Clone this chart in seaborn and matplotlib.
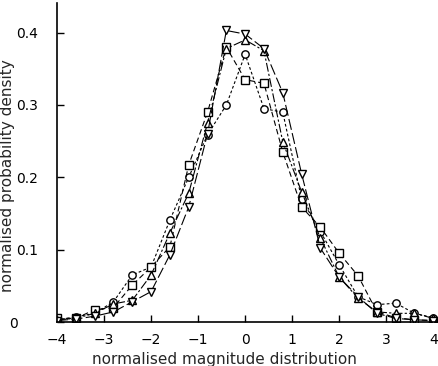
import numpy as np
import pandas as pd
import matplotlib
matplotlib.use("Agg")
import matplotlib.pyplot as plt
import matplotlib.transforms as mtransforms
import seaborn as sns

# bin centres of the normalised magnitude histogram
x_bins = [-4.0, -3.6, -3.2, -2.8, -2.4, -2.0, -1.6, -1.2, -0.8, -0.4, 0.0,
          0.4, 0.8, 1.2, 1.6, 2.0, 2.4, 2.8, 3.2, 3.6, 4.0]

# probability density of each data set
circle_y = [0.003, 0.007, 0.012, 0.028, 0.065, 0.076, 0.141, 0.200, 0.259, 0.300, 0.370,
            0.295, 0.290, 0.170, 0.125, 0.079, 0.035, 0.024, 0.026, 0.012, 0.006]
square_y = [0.005, 0.005, 0.017, 0.020, 0.051, 0.076, 0.104, 0.217, 0.290, 0.380, 0.335,
            0.330, 0.235, 0.159, 0.131, 0.095, 0.064, 0.014, 0.006, 0.003, 0.002]
tri_up_y = [0.003, 0.005, 0.012, 0.025, 0.030, 0.065, 0.123, 0.178, 0.275, 0.378, 0.390,
            0.375, 0.249, 0.180, 0.116, 0.062, 0.033, 0.014, 0.012, 0.012, 0.005]
tri_dn_y = [0.002, 0.004, 0.008, 0.014, 0.028, 0.042, 0.093, 0.159, 0.260, 0.403, 0.398,
            0.378, 0.317, 0.205, 0.102, 0.062, 0.035, 0.012, 0.005, 0.003, 0.002]

x_ticks = [-4, -3, -2, -1, 0, 1, 2, 3, 4]
x_tick_labels = ["\u22124", "\u22123", "\u22122", "\u22121", "0", "1", "2", "3", "4"]
y_ticks = [0, 0.1, 0.2, 0.3, 0.4]
y_tick_labels = ["0", "0.1", "0.2", "0.3", "0.4"]

series = {
    "circle": circle_y,
    "square": square_y,
    "tri_up": tri_up_y,
    "tri_dn": tri_dn_y,
}
df = pd.concat(
    [pd.DataFrame({"x": x_bins, "y": v, "set": k}) for k, v in series.items()],
    ignore_index=True,
)

sns.set_style("ticks")
plt.rcParams["font.family"] = ["DejaVu Sans"]

fig = plt.figure(figsize=(4.39, 3.66), dpi=100)
ax = fig.add_axes([57 / 439, 44 / 366, 381 / 439, 319 / 366])

styles = {
    "circle": dict(marker="o", dashes=(2.5, 2.0)),
    "square": dict(marker="s", dashes=(5, 3)),
    "tri_up": dict(marker="^", dashes=(8, 2, 2, 2)),
    "tri_dn": dict(marker="v", dashes=(10, 3)),
}

for name, st in styles.items():
    sub = df[df["set"] == name]
    sns.lineplot(
        data=sub, x="x", y="y", ax=ax, color="black", linewidth=0.8,
        marker=st["marker"], markersize=5.3, markerfacecolor="white",
        markeredgecolor="black", markeredgewidth=1.0, dashes=st["dashes"],
        legend=False,
    )

ax.set_xlim(-4, 4.1)
ax.set_ylim(0, 0.441)
ax.set_xticks(x_ticks)
ax.set_xticklabels(x_tick_labels)
ax.set_yticks(y_ticks)
ax.set_yticklabels(y_tick_labels)
ax.tick_params(direction="in", length=5, width=1, labelsize=10, colors="black")
ax.tick_params(axis="x", pad=8)
ax.tick_params(axis="y", pad=13.5)
ax.set_xlabel("normalised magnitude distribution", fontsize=11)
ax.set_ylabel("normalised probability density", fontsize=11)
ax.xaxis.set_label_coords(0.44, -0.095)
ax.yaxis.set_label_coords(-0.11, 0.46)

# the origin label sits further out, at the corner
lab0 = ax.get_yticklabels()[0]
lab0.set_transform(lab0.get_transform() +
                   mtransforms.ScaledTranslation(-20 / 100, 0, fig.dpi_scale_trans))

sns.despine(ax=ax)
for s in ["left", "bottom"]:
    ax.spines[s].set_linewidth(1.2)
    ax.spines[s].set_color("black")
    ax.spines[s].set_clip_on(False)

fig.savefig("out.png", dpi=100)
